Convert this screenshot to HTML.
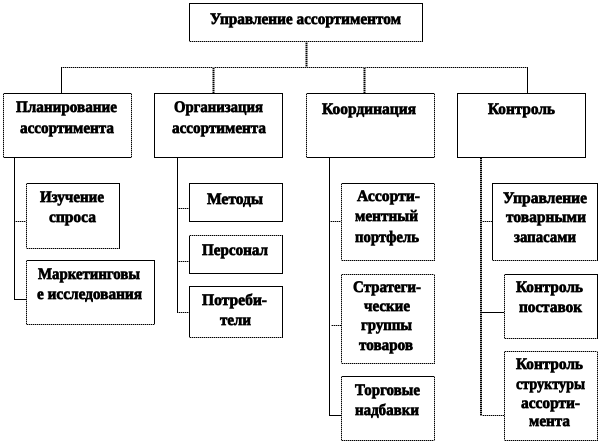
<!DOCTYPE html>
<html lang="ru"><head><meta charset="utf-8"><title>Управление ассортиментом</title>
<style>
html,body{margin:0;padding:0;background:#fff;width:600px;height:444px;overflow:hidden}
svg{display:block}
text{font-family:"Liberation Serif","Noto Serif CJK SC",serif;font-weight:bold;font-size:16px;fill:#000;stroke:#000;stroke-width:.7px}
rect{fill:#fff;stroke:#000;stroke-width:1}
line{stroke:#000;stroke-width:1}
.w{stroke:#999;stroke-dasharray:1 1}
.t{stroke-width:2}
</style></head><body>
<svg width="600" height="444" viewBox="0 0 600 444" shape-rendering="crispEdges">
<!-- connectors -->
<line x1="306.5" y1="42" x2="306.5" y2="67" class="t"/>
<line x1="61" y1="67.5" x2="528" y2="67.5"/>
<line x1="61.5" y1="67" x2="61.5" y2="93"/>
<line x1="213.5" y1="67" x2="213.5" y2="93" class="t"/>
<line x1="364.5" y1="67" x2="364.5" y2="93" class="t"/>
<line x1="527.5" y1="67" x2="527.5" y2="93"/>
<line x1="14.5" y1="157" x2="14.5" y2="300"/>
<line x1="14" y1="221.5" x2="26" y2="221.5"/>
<line x1="14" y1="299.5" x2="26" y2="299.5"/>
<line x1="177.5" y1="157" x2="177.5" y2="313"/>
<line x1="177" y1="208.5" x2="189" y2="208.5"/>
<line x1="177" y1="261.5" x2="189" y2="261.5"/>
<line x1="177" y1="312.5" x2="189" y2="312.5"/>
<line x1="329.5" y1="157" x2="329.5" y2="416"/>
<line x1="329" y1="221.5" x2="341" y2="221.5"/>
<line x1="331" y1="325.5" x2="341" y2="325.5"/>
<line x1="329" y1="415.5" x2="341" y2="415.5"/>
<line x1="481" y1="157" x2="481" y2="416" class="t"/>
<line x1="480" y1="221.5" x2="492" y2="221.5"/>
<line x1="480" y1="312.5" x2="504" y2="312.5"/>
<line x1="480" y1="415.5" x2="504" y2="415.5"/>
<!-- dotted overlays on connectors -->
<line x1="306.5" y1="42" x2="306.5" y2="67" class="w t"/>
<line x1="62" y1="67.5" x2="528" y2="67.5" class="w"/>
<line x1="213.5" y1="67" x2="213.5" y2="93" class="w t"/>
<line x1="364.5" y1="67" x2="364.5" y2="93" class="w t"/>
<line x1="481" y1="157" x2="481" y2="416" class="w t"/>
<line x1="15" y1="221.5" x2="26" y2="221.5" class="w"/>
<line x1="178" y1="208.5" x2="189" y2="208.5" class="w"/>
<line x1="178" y1="261.5" x2="189" y2="261.5" class="w"/>
<line x1="178" y1="312.5" x2="189" y2="312.5" class="w"/>
<line x1="330" y1="221.5" x2="341" y2="221.5" class="w"/>
<line x1="331" y1="325.5" x2="341" y2="325.5" class="w"/>
<line x1="482" y1="221.5" x2="492" y2="221.5" class="w"/>
<line x1="482" y1="415.5" x2="504" y2="415.5" class="w"/>
<!-- boxes -->
<rect x="189.5" y="3.5" width="233" height="38"/>
<rect x="3.5" y="93.5" width="128" height="64"/>
<rect x="154.5" y="93.5" width="128" height="64"/>
<rect x="306.5" y="93.5" width="128" height="64"/>
<rect x="457.5" y="93.5" width="128" height="64"/>
<rect x="26.5" y="183.5" width="93" height="65"/>
<rect x="26.5" y="260.5" width="128" height="64"/>
<rect x="189.5" y="183.5" width="93" height="38"/>
<rect x="189.5" y="235.5" width="93" height="38"/>
<rect x="189.5" y="286.5" width="93" height="51"/>
<rect x="341.5" y="183.5" width="93" height="77"/>
<rect x="341.5" y="274.5" width="93" height="89"/>
<rect x="341.5" y="376.5" width="93" height="64"/>
<rect x="492.5" y="183.5" width="105" height="77"/>
<rect x="504.5" y="274.5" width="93" height="64"/>
<rect x="504.5" y="351.5" width="93" height="89"/>
<!-- dotted overlays on box edges -->
<line x1="189" y1="41.5" x2="423" y2="41.5" class="w"/>
<line x1="3.5" y1="93" x2="3.5" y2="158" class="w"/>
<line x1="131.5" y1="93" x2="131.5" y2="158" class="w"/>
<line x1="306.5" y1="93" x2="306.5" y2="158" class="w"/>
<line x1="434.5" y1="93" x2="434.5" y2="158" class="w"/>
<line x1="26.5" y1="183" x2="26.5" y2="249" class="w"/>
<line x1="26" y1="248.5" x2="120" y2="248.5" class="w"/>
<line x1="26.5" y1="260" x2="26.5" y2="325" class="w"/>
<line x1="26" y1="324.5" x2="155" y2="324.5" class="w"/>
<line x1="189" y1="235.5" x2="283" y2="235.5" class="w"/>
<line x1="189" y1="337.5" x2="283" y2="337.5" class="w"/>
<line x1="341.5" y1="183" x2="341.5" y2="261" class="w"/>
<line x1="434.5" y1="183" x2="434.5" y2="261" class="w"/>
<line x1="341" y1="260.5" x2="435" y2="260.5" class="w"/>
<line x1="341" y1="274.5" x2="435" y2="274.5" class="w"/>
<line x1="341" y1="363.5" x2="435" y2="363.5" class="w"/>
<line x1="341.5" y1="274" x2="341.5" y2="364" class="w"/>
<line x1="434.5" y1="274" x2="434.5" y2="364" class="w"/>
<line x1="341.5" y1="376" x2="341.5" y2="441" class="w"/>
<line x1="434.5" y1="376" x2="434.5" y2="441" class="w"/>
<line x1="341" y1="440.5" x2="435" y2="440.5" class="w"/>
<line x1="492" y1="260.5" x2="598" y2="260.5" class="w"/>
<line x1="504.5" y1="274" x2="504.5" y2="339" class="w"/>
<line x1="504" y1="338.5" x2="598" y2="338.5" class="w"/>
<line x1="504" y1="351.5" x2="598" y2="351.5" class="w"/>
<line x1="504" y1="440.5" x2="598" y2="440.5" class="w"/>
<line x1="504.5" y1="351" x2="504.5" y2="441" class="w"/>
<line x1="597.5" y1="351" x2="597.5" y2="441" class="w"/>
<!-- labels -->
<g shape-rendering="auto" text-rendering="geometricPrecision">
<text x="210" y="24" textLength="191" lengthAdjust="spacingAndGlyphs">Управление ассортиментом</text>
<text x="16" y="112" textLength="101" lengthAdjust="spacingAndGlyphs">Планирование</text>
<text x="20" y="133" textLength="94" lengthAdjust="spacingAndGlyphs">ассортимента</text>
<text x="174" y="112" textLength="89" lengthAdjust="spacingAndGlyphs">Организация</text>
<text x="172" y="133" textLength="94" lengthAdjust="spacingAndGlyphs">ассортимента</text>
<text x="322" y="114" textLength="94" lengthAdjust="spacingAndGlyphs">Координация</text>
<text x="488" y="114" textLength="67" lengthAdjust="spacingAndGlyphs">Контроль</text>
<text x="40" y="202" textLength="64" lengthAdjust="spacingAndGlyphs">Изучение</text>
<text x="49" y="222" textLength="47" lengthAdjust="spacingAndGlyphs">спроса</text>
<text x="38" y="279" textLength="102" lengthAdjust="spacingAndGlyphs">Маркетинговы</text>
<text x="37" y="299" textLength="105" lengthAdjust="spacingAndGlyphs">е исследования</text>
<text x="207" y="204" textLength="56" lengthAdjust="spacingAndGlyphs">Методы</text>
<text x="202" y="255" textLength="66" lengthAdjust="spacingAndGlyphs">Персонал</text>
<text x="202" y="305" textLength="65" lengthAdjust="spacingAndGlyphs">Потреби-</text>
<text x="220" y="325" textLength="31" lengthAdjust="spacingAndGlyphs">тели</text>
<text x="357" y="201" textLength="63" lengthAdjust="spacingAndGlyphs">Ассорти-</text>
<text x="355" y="221" textLength="63" lengthAdjust="spacingAndGlyphs">ментный</text>
<text x="355" y="242" textLength="64" lengthAdjust="spacingAndGlyphs">портфель</text>
<text x="353" y="292" textLength="68" lengthAdjust="spacingAndGlyphs">Стратеги-</text>
<text x="364" y="311" textLength="46" lengthAdjust="spacingAndGlyphs">ческие</text>
<text x="361" y="330" textLength="51" lengthAdjust="spacingAndGlyphs">группы</text>
<text x="359" y="350" textLength="54" lengthAdjust="spacingAndGlyphs">товаров</text>
<text x="355" y="395" textLength="65" lengthAdjust="spacingAndGlyphs">Торговые</text>
<text x="355" y="415" textLength="64" lengthAdjust="spacingAndGlyphs">надбавки</text>
<text x="503" y="203" textLength="84" lengthAdjust="spacingAndGlyphs">Управление</text>
<text x="506" y="222" textLength="80" lengthAdjust="spacingAndGlyphs">товарными</text>
<text x="514" y="242" textLength="62" lengthAdjust="spacingAndGlyphs">запасами</text>
<text x="516" y="292" textLength="67" lengthAdjust="spacingAndGlyphs">Контроль</text>
<text x="519" y="312" textLength="63" lengthAdjust="spacingAndGlyphs">поставок</text>
<text x="516" y="369" textLength="67" lengthAdjust="spacingAndGlyphs">Контроль</text>
<text x="516" y="389" textLength="69" lengthAdjust="spacingAndGlyphs">структуры</text>
<text x="521" y="408" textLength="59" lengthAdjust="spacingAndGlyphs">ассорти-</text>
<text x="529" y="426" textLength="41" lengthAdjust="spacingAndGlyphs">мента</text>
</g>
</svg>
</body></html>
